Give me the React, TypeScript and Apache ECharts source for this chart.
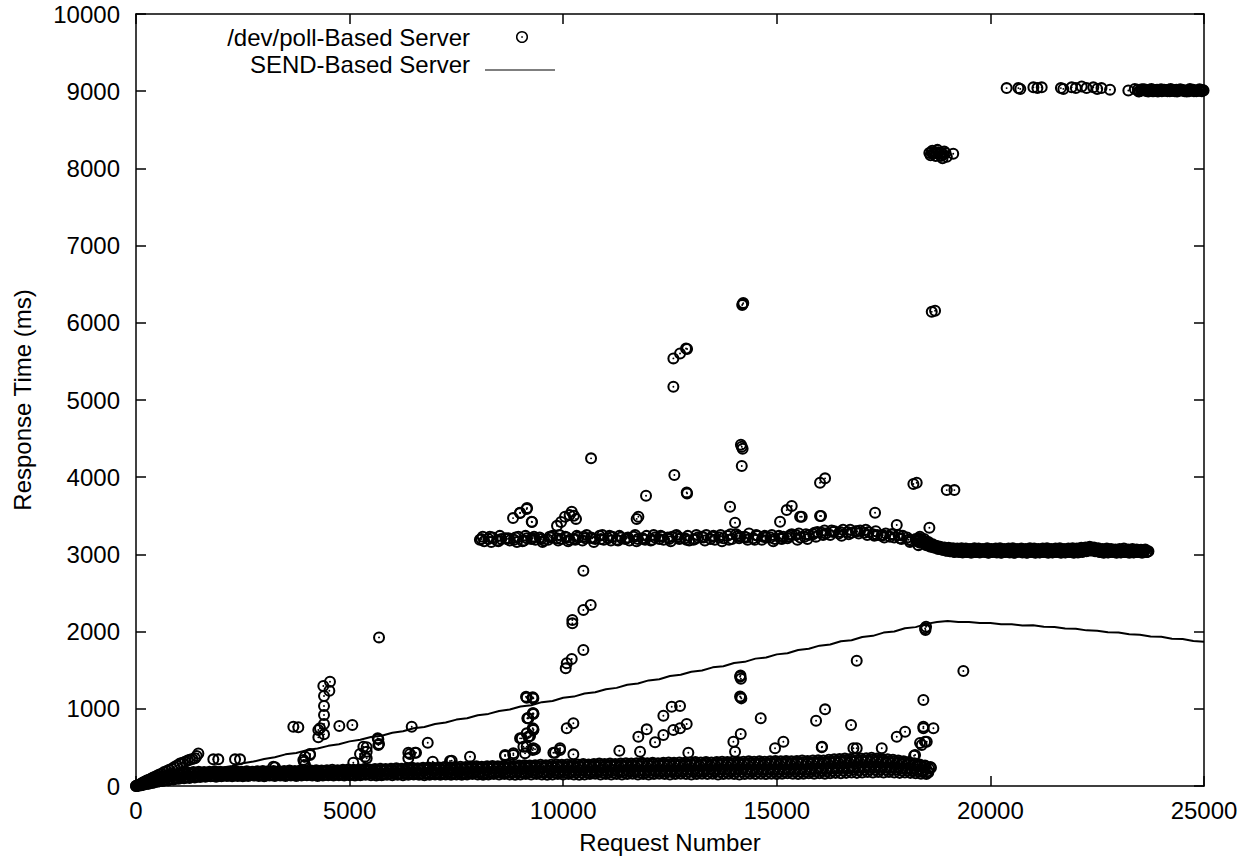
import React, { useEffect, useRef } from "react";
import * as echarts from "echarts";

// ---------- Axis ranges / ticks ----------
const X_MIN = 0;
const X_MAX = 25000;
const X_INTERVAL = 5000;
const Y_MIN = 0;
const Y_MAX = 10000;
const Y_INTERVAL = 1000;

const SERIES_POLL = "/dev/poll-Based Server";
const SERIES_SEND = "SEND-Based Server";

// ---------- SEND-Based Server (sampled every 250 requests) ----------
const SEND_STEP = 250;
const SEND_VALUES = [
  0, 40, 70, 92, 125, 148, 183, 205, 238, 260,
  295, 317, 350, 373, 410, 428, 465, 485, 520, 541,
  578, 598, 635, 652, 690, 709, 748, 765, 803, 822,
  860, 877, 916, 934, 972, 990, 1030, 1046, 1086, 1102,
  1143, 1158, 1198, 1215, 1254, 1271, 1312, 1327, 1368, 1383,
  1424, 1440, 1480, 1496, 1537, 1552, 1593, 1608, 1650, 1664,
  1705, 1720, 1762, 1777, 1818, 1833, 1875, 1889, 1931, 1945,
  1987, 2002, 2043, 2058, 2100, 2125, 2138, 2125, 2124, 2110,
  2110, 2095, 2096, 2080, 2082, 2062, 2060, 2041, 2037, 2016,
  2012, 1992, 1987, 1965, 1960, 1937, 1932, 1908, 1903, 1878,
  1870,
];

// ---------- /dev/poll-Based Server ----------
// ramp of responses right at the start
const POLL_RAMP = [
  [0, 0], [40, 10], [80, 20], [120, 30], [160, 45], [200, 55], [250, 70], [300, 80],
  [350, 95], [400, 110], [450, 120], [500, 135], [550, 150], [600, 160], [660, 180],
  [720, 195], [780, 210], [840, 225], [900, 245], [960, 265], [1030, 290], [1090, 300],
  [1150, 315], [1210, 330], [1260, 340], [1320, 350], [1380, 360], [1420, 390], [1460, 420],
];

// dense low band (six sampled rows, every 125 requests)
const LOW_STEP = 125;
const LOW_ROW_A_START = 0;
const LOW_ROW_A = [
  0, 10, 25, 40, 55, 65, 75, 85, 95, 100,
  105, 110, 115, 120, 125, 120, 125, 130, 125, 130,
  125, 130, 135, 130, 125, 135, 130, 135, 130, 135,
  130, 135, 140, 135, 130, 135, 140, 135, 140, 135,
  140, 135, 140, 145, 140, 135, 140, 145, 140, 145,
  140, 145, 150, 145, 140, 145, 150, 145, 150, 145,
  150, 145, 150, 155, 150, 145, 150, 155, 150, 155,
  150, 145, 150, 155, 150, 155, 150, 145, 150, 155,
  150, 155, 150, 145, 150, 155, 160, 150, 155, 150,
  155, 150, 155, 160, 150, 155, 150, 155, 160, 155,
  150, 155, 160, 155, 150, 155, 160, 155, 160, 150,
  155, 160, 155, 150, 155, 160, 155, 160, 155, 160,
  155, 160, 165, 160, 155, 160, 165, 160, 165, 160,
  165, 170, 165, 170, 175, 170, 175, 180, 175, 180,
  175, 180, 175, 170, 175, 170, 165, 160, 155,
];
const LOW_ROW_B_START = 31;
const LOW_ROW_B = [
  5, 20, 40, 55, 70, 85, 95, 105, 115, 120,
  125, 130, 135, 140, 135, 140, 145, 140, 145, 140,
  145, 150, 145, 150, 145, 150, 155, 150, 145, 150,
  155, 150, 155, 160, 155, 150, 155, 160, 155, 160,
  160, 165, 160, 165, 170, 165, 160, 165, 170, 165,
  170, 175, 170, 165, 170, 175, 170, 175, 180, 175,
  180, 175, 180, 185, 180, 175, 180, 185, 190, 185,
  185, 190, 185, 190, 195, 190, 185, 190, 195, 190,
  195, 190, 195, 200, 195, 190, 195, 200, 195, 200,
  200, 195, 200, 205, 200, 195, 200, 205, 200, 205,
  205, 200, 205, 210, 205, 200, 205, 210, 205, 210,
  210, 205, 210, 215, 210, 205, 210, 215, 210, 215,
  215, 210, 215, 220, 215, 210, 215, 220, 225, 220,
  225, 230, 235, 230, 240, 235, 240, 245, 240, 245,
  240, 235, 240, 230, 225, 220, 210, 200, 190,
];
const LOW_ROW_C_START = 62;
const LOW_ROW_C = [
  10, 30, 55, 75, 95, 110, 125, 135, 145, 150,
  155, 160, 155, 160, 165, 160, 165, 160, 165, 160,
  165, 160, 165, 170, 165, 170, 165, 170, 175, 170,
  175, 170, 175, 180, 175, 180, 175, 180, 185, 180,
  185, 190, 185, 190, 195, 190, 195, 200, 195, 200,
  200, 205, 200, 205, 210, 205, 210, 205, 210, 215,
  210, 215, 220, 215, 220, 215, 220, 225, 220, 225,
  225, 230, 225, 230, 235, 230, 235, 230, 235, 240,
  235, 240, 235, 240, 245, 240, 245, 240, 245, 250,
  245, 250, 245, 250, 255, 250, 255, 250, 255, 260,
  255, 260, 255, 260, 265, 260, 265, 260, 265, 270,
  265, 270, 265, 270, 275, 270, 275, 270, 275, 280,
  275, 280, 275, 280, 285, 280, 285, 290, 285, 290,
  295, 300, 305, 300, 310, 305, 310, 315, 310, 305,
  300, 295, 290, 285, 275, 265, 255, 240, 225,
];
const LOW_ROW_D_START = 94;
const LOW_ROW_D = [
  15, 45, 75, 100, 120, 135, 150, 160, 170, 175,
  180, 185, 180, 185, 190, 185, 180, 185, 190, 185,
  190, 185, 190, 195, 190, 195, 190, 195, 200, 195,
  200, 195, 200, 205, 200, 205, 210, 205, 210, 215,
  210, 215, 220, 215, 220, 225, 220, 225, 230, 225,
  230, 235, 230, 235, 240, 235, 240, 245, 240, 245,
  250, 245, 250, 255, 250, 255, 260, 255, 260, 265,
  260, 265, 270, 265, 270, 275, 270, 275, 280, 275,
  280, 275, 280, 285, 280, 285, 290, 285, 290, 285,
  290, 295, 290, 295, 300, 295, 300, 295, 300, 305,
  300, 305, 300, 305, 310, 305, 310, 305, 310, 315,
  310, 315, 310, 315, 320, 315, 320, 315, 320, 325,
  320, 325, 320, 325, 330, 325, 330, 335, 330, 340,
  345, 350, 355, 350, 360, 355, 360, 365, 355, 350,
  345, 340, 330, 320, 310, 295, 280, 265, 245,
];
const LOW_ROW_E_START = 47;
const LOW_ROW_E = [
  0, 15, 30, 45, 60, 75, 85, 95, 105, 110,
  115, 120, 125, 130, 130, 130, 135, 135, 135, 135,
  135, 140, 140, 140, 135, 140, 145, 140, 140, 145,
  140, 145, 150, 145, 140, 145, 150, 150, 150, 150,
  150, 150, 150, 155, 155, 150, 150, 155, 155, 155,
  155, 160, 160, 155, 155, 160, 160, 160, 165, 160,
  165, 160, 165, 170, 165, 160, 165, 170, 170, 170,
  170, 170, 170, 175, 175, 175, 170, 170, 175, 175,
  175, 175, 175, 175, 175, 175, 180, 175, 175, 175,
  180, 175, 180, 185, 175, 175, 175, 180, 180, 180,
  180, 180, 185, 185, 180, 180, 185, 185, 185, 180,
  185, 185, 185, 185, 185, 185, 185, 190, 185, 190,
  185, 185, 190, 190, 185, 185, 190, 190, 195, 190,
  195, 200, 200, 200, 210, 205, 210, 215, 210, 215,
  210, 210, 210, 200, 200, 195, 190, 180, 175,
];
const LOW_ROW_F_START = 109;
const LOW_ROW_F = [
  12, 38, 65, 88, 108, 122, 138, 148, 158, 162,
  168, 172, 168, 172, 178, 172, 172, 172, 178, 172,
  178, 172, 178, 182, 178, 182, 178, 182, 188, 182,
  188, 182, 188, 192, 188, 192, 192, 192, 198, 198,
  198, 202, 202, 202, 208, 208, 208, 212, 212, 212,
  215, 220, 215, 220, 225, 220, 225, 225, 225, 230,
  230, 230, 235, 235, 235, 235, 240, 240, 240, 245,
  242, 248, 248, 248, 252, 252, 252, 252, 258, 258,
  258, 258, 258, 262, 262, 262, 268, 262, 268, 268,
  268, 272, 268, 272, 278, 272, 278, 272, 278, 282,
  278, 282, 278, 282, 288, 282, 288, 282, 288, 292,
  288, 292, 288, 292, 298, 292, 298, 292, 298, 302,
  298, 302, 298, 302, 308, 302, 308, 312, 308, 315,
  320, 325, 330, 325, 335, 330, 335, 340, 332, 328,
  322, 318, 310, 302, 292, 280, 268, 252, 235,
];

// scattered responses below ~2500 ms
const POLL_LOW_OUTLIERS = [
  [1810, 345], [1927, 345], [2318, 345], [2435, 345],
  [3254, 242], [3215, 250],
  [3683, 768], [3800, 760],
  [3917, 337], [3956, 272], [4073, 401], [3933, 315], [3956, 380], [4073, 414],
  [4268, 630], [4307, 747], [4401, 669], [4401, 803], [4401, 919], [4401, 1036],
  [4401, 1165], [4385, 1295], [4541, 1351], [4526, 1234], [4268, 725],
  [4760, 777], [5064, 790],
  [5087, 302], [5244, 414], [5400, 358], [5400, 444], [5322, 509], [5361, 380], [5400, 501],
  [5673, 605], [5689, 544], [5658, 617], [5673, 531],
  [5689, 1925],
  [6454, 768], [6375, 431], [6531, 431], [6375, 358], [6414, 414], [6555, 431],
  [6829, 561], [6946, 315],
  [7351, 324], [7390, 328], [7819, 380],
  [8639, 388], [8833, 401], [8639, 401], [8833, 423],
  [8990, 617], [9029, 617], [9068, 509], [9146, 509], [9146, 682], [9107, 423],
  [9185, 638], [9224, 647], [9302, 725], [9302, 734], [9302, 488], [9341, 475],
  [9287, 466], [9287, 747], [9161, 877], [9185, 877], [9170, 877], [9287, 941],
  [9302, 941], [9302, 932], [9130, 1157], [9146, 1144], [9287, 1149], [9287, 1136],
  [9302, 1136],
  [9770, 431], [9809, 431], [9926, 488], [9926, 466], [10238, 410], [10083, 747], [10238, 812],
  [10059, 1524], [10083, 1589], [10200, 1645], [10214, 2107], [10214, 2150],
  [10472, 2279], [10644, 2344], [10472, 1761], [10472, 2788],
  [11314, 457], [11759, 638], [11799, 444], [11955, 734], [12150, 566], [12345, 660],
  [12345, 910], [12540, 1027], [12735, 1036], [12579, 725], [12735, 747], [12891, 803],
  [12929, 431],
  [13984, 574], [14023, 444], [14156, 673], [14156, 1149], [14170, 1135], [14140, 1160],
  [14140, 1415], [14160, 1390], [14150, 1430], [14624, 877],
  [14959, 488], [15154, 574], [15919, 846], [16130, 993], [16052, 501], [16060, 510],
  [16738, 790], [16871, 1623], [16871, 488], [16793, 488], [17457, 488], [17808, 638],
  [18003, 703],
  [18237, 401], [18392, 531], [18213, 392], [18353, 557], [18471, 574], [18510, 574],
  [18431, 768], [18431, 747], [18666, 747], [18431, 1114], [18471, 2042], [18494, 2063],
  [18480, 2020],
  [19367, 1489],
];

// band around 3200 ms (four sampled rows, every 200 requests)
const MID_STEP = 200;
const MID_ROW_A_START = 8050;
const MID_ROW_A = [
  3190, 3200, 3180, 3210, 3190, 3170, 3200, 3220, 3190, 3210,
  3230, 3200, 3180, 3220, 3240, 3210, 3190, 3200, 3230, 3210,
  3180, 3200, 3220, 3250, 3210, 3190, 3230, 3200, 3220, 3240,
  3260, 3230, 3210, 3190, 3220, 3240, 3210, 3250, 3230, 3260,
  3280, 3250, 3270, 3290, 3300, 3280, 3260, 3240, 3230, 3250,
  3220, 3200,
];
const MID_ROW_B_START = 8150;
const MID_ROW_B = [
  3170, 3220, 3200, 3180, 3230, 3210, 3190, 3180, 3240, 3200,
  3190, 3220, 3250, 3200, 3190, 3230, 3220, 3180, 3200, 3240,
  3220, 3190, 3230, 3210, 3180, 3220, 3250, 3190, 3210, 3200,
  3230, 3270, 3240, 3220, 3200, 3230, 3260, 3220, 3250, 3290,
  3270, 3300, 3320, 3280, 3310, 3290, 3250, 3270, 3220, 3240,
  3180, 3150,
];
const MID_ROW_C_START = 8117;
const MID_ROW_C = [
  3230, 3160, 3240, 3210, 3160, 3240, 3230, 3160, 3220, 3250,
  3170, 3240, 3210, 3160, 3250, 3180, 3240, 3220, 3170, 3190,
  3250, 3230, 3170, 3200, 3240, 3250, 3180, 3240, 3170, 3260,
  3210, 3190, 3250, 3240, 3170, 3200, 3250, 3270, 3200, 3230,
  3310, 3290, 3240, 3320, 3270, 3250, 3300, 3220, 3260, 3200,
  3160, 3120,
];
const MID_ROW_D_START = 8083;
const MID_ROW_D = [
  3200, 3230, 3170, 3200, 3220, 3180, 3210, 3200, 3230, 3180,
  3220, 3190, 3230, 3210, 3200, 3240, 3180, 3210, 3250, 3200,
  3190, 3240, 3200, 3230, 3190, 3200, 3220, 3230, 3250, 3190,
  3240, 3220, 3190, 3230, 3250, 3210, 3230, 3190, 3260, 3280,
  3250, 3310, 3290, 3260, 3300, 3320, 3240, 3250, 3260, 3210,
  3190, 3170,
];

// scattered responses above the low band
const POLL_HIGH_OUTLIERS = [
  [8826, 3470], [8990, 3535], [9154, 3600], [9270, 3419], [9146, 3587], [8990, 3540], [9263, 3423],
  [9855, 3370], [9950, 3420], [10043, 3487], [10150, 3510], [10200, 3552], [10250, 3500], [10300, 3460],
  [10652, 4244], [11760, 3488], [11720, 3460], [11939, 3760], [12602, 4028], [12891, 3803], [12900, 3790],
  [13906, 3617], [14023, 3410], [14180, 4394], [14200, 4370], [14160, 4420], [14180, 4144],
  [12579, 5171], [12579, 5539], [12735, 5603], [12875, 5668], [12900, 5660],
  [14203, 6242], [14190, 6230], [14215, 6255],
  [15076, 3423], [15232, 3574], [15350, 3626], [15545, 3487], [15584, 3487], [16036, 3497], [16012, 3497],
  [16012, 3928], [16130, 3985], [17300, 3539], [17808, 3380], [18197, 3911], [18275, 3928], [18572, 3345],
  [18978, 3833], [19157, 3833],
  [18627, 6142], [18705, 6155],
  [18570, 8200], [18620, 8210], [18660, 8190], [18700, 8205], [18740, 8195], [18780, 8210],
  [18820, 8190], [18860, 8200], [18900, 8180], [18880, 8130], [18950, 8200], [19130, 8190], [18980, 8150],
  [18600, 8170], [18640, 8230], [18720, 8160], [18760, 8240], [18840, 8160], [18920, 8220],
  [20380, 9040], [20655, 9040], [20700, 9030], [21006, 9050], [21100, 9040], [21201, 9050],
  [21650, 9040], [21708, 9030], [21903, 9050], [22000, 9040], [22137, 9060], [22250, 9040],
  [22409, 9050], [22500, 9030], [22600, 9040], [22800, 9020], [23229, 9010], [23380, 9030],
];

// band around 3050 ms after the drop (six rows, every 100 requests)
const DROP_STEP = 100;
const DROP_ROW_A_START = 18300;
const DROP_ROW_A = [
  3180, 3150, 3120, 3100, 3090, 3080, 3070, 3065, 3060, 3060,
  3055, 3050, 3060, 3045, 3055, 3050, 3040, 3055, 3045, 3050,
  3040, 3055, 3045, 3040, 3050, 3045, 3055, 3040, 3050, 3045,
  3040, 3050, 3045, 3055, 3040, 3050, 3045, 3040, 3050, 3060,
  3070, 3060, 3050, 3045, 3040, 3050, 3040, 3045, 3035, 3040,
  3045, 3035, 3040, 3045, 3040,
];
const DROP_ROW_B_START = 18350;
const DROP_ROW_B = [
  3230, 3200, 3160, 3130, 3110, 3070, 3050, 3040, 3030, 3035,
  3025, 3030, 3020, 3030, 3025, 3035, 3020, 3030, 3025, 3020,
  3030, 3025, 3020, 3035, 3025, 3020, 3030, 3020, 3025, 3030,
  3020, 3025, 3030, 3020, 3025, 3030, 3020, 3025, 3030, 3040,
  3050, 3040, 3030, 3020, 3025, 3030, 3020, 3025, 3030, 3020,
  3025, 3030, 3020, 3030,
];
const DROP_ROW_C_START = 18325;
const DROP_ROW_C = [
  3210, 3180, 3150, 3120, 3110, 3100, 3090, 3085, 3080, 3075,
  3080, 3075, 3070, 3080, 3075, 3070, 3080, 3070, 3075, 3080,
  3070, 3075, 3080, 3070, 3075, 3070, 3080, 3075, 3070, 3075,
  3080, 3070, 3075, 3080, 3070, 3075, 3080, 3075, 3085, 3090,
  3100, 3090, 3080, 3070, 3075, 3070, 3065, 3070, 3075, 3065,
  3070, 3065, 3060, 3065,
];
const DROP_ROW_D_START = 18375;
const DROP_ROW_D = [
  3160, 3140, 3110, 3090, 3070, 3060, 3050, 3045, 3040, 3035,
  3040, 3035, 3040, 3030, 3040, 3035, 3030, 3040, 3035, 3030,
  3040, 3035, 3030, 3040, 3035, 3030, 3040, 3035, 3030, 3040,
  3035, 3030, 3040, 3035, 3030, 3040, 3035, 3040, 3045, 3055,
  3060, 3050, 3040, 3035, 3030, 3040, 3035, 3030, 3035, 3040,
  3030, 3035, 3040, 3035,
];
const DROP_ROW_E_START = 18312;
const DROP_ROW_E = [
  3195, 3165, 3135, 3110, 3100, 3090, 3080, 3075, 3070, 3068,
  3068, 3062, 3065, 3062, 3065, 3060, 3060, 3062, 3060, 3065,
  3055, 3065, 3062, 3055, 3062, 3058, 3068, 3058, 3060, 3060,
  3060, 3060, 3060, 3068, 3055, 3062, 3062, 3058, 3068, 3075,
  3085, 3075, 3065, 3058, 3058, 3060, 3052, 3058, 3055, 3052,
  3058, 3050, 3050, 3055,
];
const DROP_ROW_F_START = 18362;
const DROP_ROW_F = [
  3195, 3170, 3135, 3110, 3090, 3065, 3050, 3042, 3035, 3035,
  3032, 3032, 3030, 3030, 3032, 3035, 3025, 3035, 3030, 3025,
  3035, 3030, 3025, 3038, 3030, 3025, 3035, 3028, 3028, 3035,
  3028, 3028, 3035, 3028, 3028, 3035, 3028, 3032, 3038, 3048,
  3055, 3045, 3035, 3028, 3028, 3035, 3028, 3028, 3032, 3030,
  3028, 3032, 3030, 3032,
];

// band around 9000 ms at the end (three rows, every 75 requests)
const TOP_STEP = 75;
const TOP_ROW_A_START = 23450;
const TOP_ROW_A = [
  9020, 9010, 9025, 9005, 9015, 9000, 9020, 9010, 9005, 9015,
  9000, 9010, 9020, 9005, 9015, 9010, 9000, 9015, 9005, 9010, 9000,
];
const TOP_ROW_B_START = 23490;
const TOP_ROW_B = [
  9000, 9015, 9005, 9020, 9000, 9010, 9015, 9000, 9010, 9020,
  9005, 9000, 9010, 9015, 9000, 9005, 9015, 9000, 9010, 9005, 9010,
];
const TOP_ROW_C_START = 23470;
const TOP_ROW_C = [
  8995, 9025, 9010, 8995, 9030, 9015, 8995, 9025, 9020, 9000,
  9030, 9015, 8995, 9025, 9010, 8995, 9030, 9020, 9000, 9025, 9015,
];

// circle-with-dot marker (gnuplot point type 6)
const RING_PATH =
  "path://M50 0A50 50 0 1 1 50 100A50 50 0 1 1 50 0ZM50 17A33 33 0 1 0 50 83A33 33 0 1 0 50 17ZM50 42A8 8 0 1 1 50 58A8 8 0 1 1 50 42Z";

const FONT = '"Liberation Sans", Arial, Helvetica, sans-serif';

function rowPoints(start: number, step: number, values: number[]) {
  return values.map((v, i) => [start + i * step, v]);
}

function buildOption() {
  const pollData = [
    ...POLL_RAMP,
    ...rowPoints(LOW_ROW_A_START, LOW_STEP, LOW_ROW_A),
    ...rowPoints(LOW_ROW_B_START, LOW_STEP, LOW_ROW_B),
    ...rowPoints(LOW_ROW_C_START, LOW_STEP, LOW_ROW_C),
    ...rowPoints(LOW_ROW_D_START, LOW_STEP, LOW_ROW_D),
    ...rowPoints(LOW_ROW_E_START, LOW_STEP, LOW_ROW_E),
    ...rowPoints(LOW_ROW_F_START, LOW_STEP, LOW_ROW_F),
    ...POLL_LOW_OUTLIERS,
    ...rowPoints(MID_ROW_A_START, MID_STEP, MID_ROW_A),
    ...rowPoints(MID_ROW_B_START, MID_STEP, MID_ROW_B),
    ...rowPoints(MID_ROW_C_START, MID_STEP, MID_ROW_C),
    ...rowPoints(MID_ROW_D_START, MID_STEP, MID_ROW_D),
    ...rowPoints(DROP_ROW_A_START, DROP_STEP, DROP_ROW_A),
    ...rowPoints(DROP_ROW_B_START, DROP_STEP, DROP_ROW_B),
    ...rowPoints(DROP_ROW_C_START, DROP_STEP, DROP_ROW_C),
    ...rowPoints(DROP_ROW_D_START, DROP_STEP, DROP_ROW_D),
    ...rowPoints(DROP_ROW_E_START, DROP_STEP, DROP_ROW_E),
    ...rowPoints(DROP_ROW_F_START, DROP_STEP, DROP_ROW_F),
    ...rowPoints(TOP_ROW_A_START, TOP_STEP, TOP_ROW_A),
    ...rowPoints(TOP_ROW_B_START, TOP_STEP, TOP_ROW_B),
    ...rowPoints(TOP_ROW_C_START, TOP_STEP, TOP_ROW_C),
    ...POLL_HIGH_OUTLIERS,
  ];
  const sendData = rowPoints(0, SEND_STEP, SEND_VALUES);

  const axisLine = { show: true, onZero: false, lineStyle: { color: "#000", width: 1.5 } };
  const axisTick = { show: true, inside: true, length: 10, lineStyle: { color: "#000", width: 1.5 } };
  const labelStyle = { color: "#000", fontSize: 24, fontFamily: FONT };

  const xBase = {
    type: "value",
    min: X_MIN,
    max: X_MAX,
    interval: X_INTERVAL,
    splitLine: { show: false },
    axisLine,
    axisTick,
  };
  const yBase = {
    type: "value",
    min: Y_MIN,
    max: Y_MAX,
    interval: Y_INTERVAL,
    splitLine: { show: false },
    axisLine,
    axisTick,
  };

  return {
    animation: false,
    backgroundColor: "#fff",
    textStyle: { fontFamily: FONT },
    grid: { left: 136, top: 14, width: 1068, height: 772, containLabel: false },
    xAxis: [
      {
        ...xBase,
        position: "bottom",
        name: "Request Number",
        nameLocation: "middle",
        nameGap: 44,
        nameTextStyle: { ...labelStyle },
        axisLabel: { ...labelStyle, margin: 12, formatter: (v: number) => String(v) },
      },
      {
        ...xBase,
        position: "top",
        axisLabel: { show: false },
      },
    ],
    yAxis: [
      {
        ...yBase,
        position: "left",
        name: "Response Time (ms)",
        nameLocation: "middle",
        nameRotate: 90,
        nameGap: 102,
        nameTextStyle: { ...labelStyle },
        axisLabel: { ...labelStyle, margin: 16, formatter: (v: number) => String(v) },
      },
      {
        ...yBase,
        position: "right",
        axisLabel: { show: false },
      },
    ],
    series: [
      {
        name: SERIES_POLL,
        type: "scatter",
        xAxisIndex: 0,
        yAxisIndex: 0,
        symbol: RING_PATH,
        symbolSize: 12,
        itemStyle: { color: "#000", opacity: 1 },
        emphasis: { disabled: true },
        data: pollData,
      },
      {
        name: SERIES_SEND,
        type: "line",
        xAxisIndex: 0,
        yAxisIndex: 0,
        showSymbol: false,
        symbol: "none",
        lineStyle: { color: "#000", width: 2 },
        emphasis: { disabled: true },
        data: sendData,
      },
    ],
    graphic: [
      {
        type: "text",
        x: 470,
        y: 37,
        style: {
          text: SERIES_POLL,
          align: "right",
          verticalAlign: "middle",
          fill: "#000",
          font: `24px ${FONT}`,
        },
      },
      {
        type: "circle",
        shape: { cx: 522, cy: 37, r: 5.3 },
        style: { fill: "none", stroke: "#000", lineWidth: 1.5 },
      },
      {
        type: "circle",
        shape: { cx: 522, cy: 37, r: 0.8 },
        style: { fill: "#000" },
      },
      {
        type: "text",
        x: 470,
        y: 64,
        style: {
          text: SERIES_SEND,
          align: "right",
          verticalAlign: "middle",
          fill: "#000",
          font: `24px ${FONT}`,
        },
      },
      {
        type: "line",
        shape: { x1: 485, y1: 70, x2: 555, y2: 70 },
        style: { stroke: "#000", lineWidth: 1.2 },
      },
    ],
  };
}

export default function App() {
  const ref = useRef<HTMLDivElement>(null);
  useEffect(() => {
    if (!ref.current) return;
    const chart = echarts.init(ref.current, null, { renderer: "svg" });
    chart.setOption(buildOption() as any);
    return () => chart.dispose();
  }, []);
  return (
    <div
      ref={ref}
      style={{ position: "absolute", left: 0, top: 0, width: 1247, height: 861, background: "#fff" }}
    />
  );
}
